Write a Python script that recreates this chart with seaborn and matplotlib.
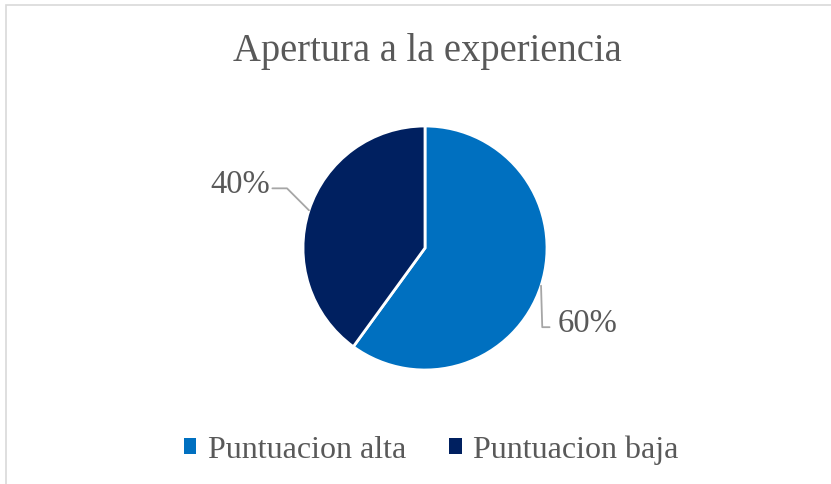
import numpy as np
import seaborn as sns
import matplotlib
matplotlib.use("Agg")
import matplotlib.pyplot as plt
from matplotlib.patches import Patch, Rectangle

# data
categories = ["Puntuacion alta", "Puntuacion baja"]
values = [60, 40]
colors = ["#0070C0", "#002060"]
title = "Apertura a la experiencia"

sns.set_theme(style="white")
plt.rcParams['font.family'] = ['Liberation Serif', 'DejaVu Serif']
text_grey = "#595959"

W, H = 831, 484
fig = plt.figure(figsize=(W / 100, H / 100), dpi=100)

# light frame around the chart area
fig.add_artist(Rectangle((6 / W, -0.1), 1.2, 1.1 - 5 / H, transform=fig.transFigure,
                         fill=False, edgecolor="#D9D9D9", linewidth=1.2))

# pie axes: center (425, 248) px, radius 122 px
r = 122
ax = fig.add_axes([(425 - r) / W, (H - 248 - r) / H, 2 * r / W, 2 * r / H])
wedges, _ = ax.pie(values, colors=colors, startangle=90, counterclock=False,
                   radius=1, wedgeprops=dict(edgecolor="white", linewidth=2))
ax.set_xlim(-1, 1)
ax.set_ylim(-1, 1)
ax.set_aspect("equal")
ax.axis("off")

# percentage labels with leader lines
total = sum(values)
for w, v in zip(wedges, values):
    mid = np.deg2rad((w.theta1 + w.theta2) / 2)
    x0, y0 = np.cos(mid), np.sin(mid)
    pct = f"{round(100 * v / total)}%"
    if x0 < 0:
        pts = [(x0, y0), (x0 - 0.18, y0 + 0.18), (x0 - 0.30, y0 + 0.18)]
        ax.text(pts[-1][0] - 0.02, pts[-1][1] + 0.03, pct, ha="right", va="center",
                fontsize=23.5, color=text_grey)
    else:
        pts = [(x0, y0), (x0 + 0.01, y0 - 0.34), (x0 + 0.07, y0 - 0.34)]
        ax.text(pts[-1][0] + 0.065, pts[-1][1] + 0.03, pct, ha="left", va="center",
                fontsize=23.5, color=text_grey)
    xs, ys = zip(*pts)
    ax.plot(xs, ys, color="#A6A6A6", linewidth=1.3, clip_on=False)

fig.text(427 / W, 1 - 52 / H, title, ha="center", va="center",
         fontsize=27.8, color=text_grey)

handles = [Patch(facecolor=c, edgecolor="none") for c in colors]
fig.legend(handles, categories, loc="center", bbox_to_anchor=(431 / W, 1 - 450 / H),
           ncol=2, frameon=False, fontsize=23, labelcolor=text_grey,
           handlelength=0.4, handleheight=0.4, handletextpad=0.35, columnspacing=1.35)

fig.savefig("out.png", dpi=100)
